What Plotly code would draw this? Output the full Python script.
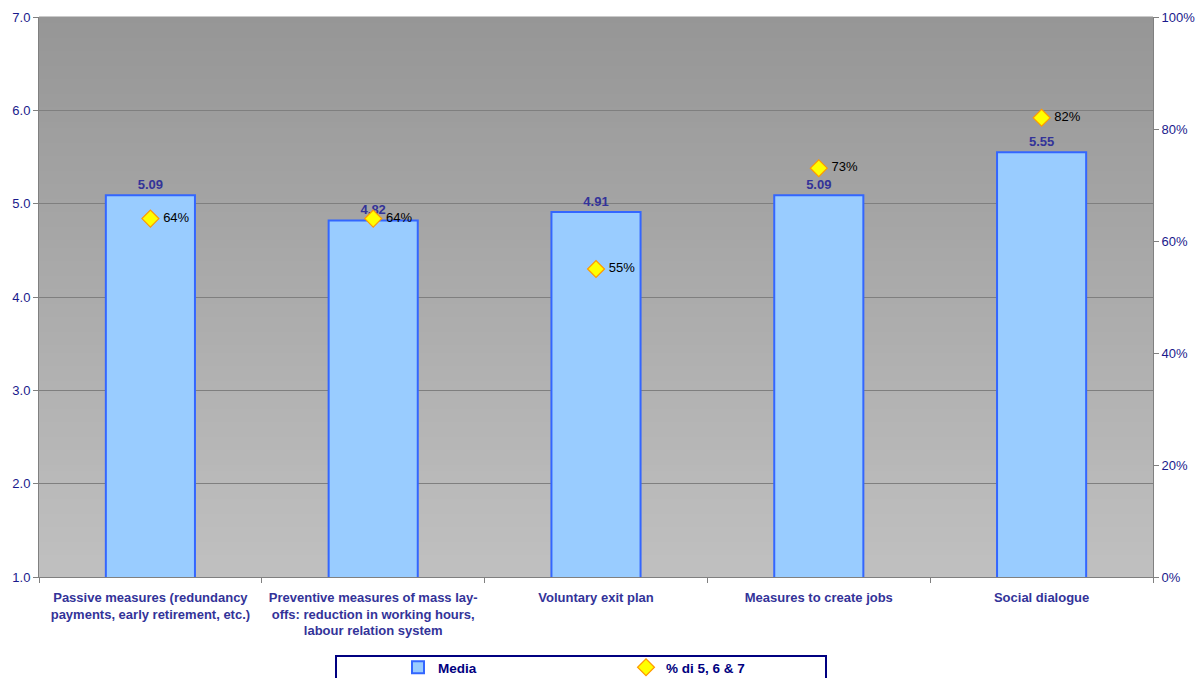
import plotly.graph_objects as go

categories = [
    "Passive measures (redundancy<br>payments, early retirement, etc.)",
    "Preventive measures of mass lay-<br>offs: reduction in working hours,<br>labour relation system",
    "Voluntary exit plan",
    "Measures to create jobs",
    "Social dialogue",
]
media = [5.09, 4.82, 4.91, 5.09, 5.55]
pct_567 = [0.64, 0.64, 0.55, 0.73, 0.82]

NAVY = "#1a1a8c"
LABEL = "#333399"
FONT = "Liberation Sans, Arial, sans-serif"

fig = go.Figure()

fig.add_trace(go.Bar(
    x=categories, y=media, name="Media",
    marker=dict(color="#99ccff", line=dict(color="#3366ff", width=2)),
    width=0.4,
    text=[f"{v:.2f}" for v in media], textposition="outside",
    textfont=dict(color=LABEL, size=13, family=FONT, weight="bold"),
    cliponaxis=False,
))

fig.add_trace(go.Scatter(
    x=categories, y=pct_567, name="% di 5, 6 & 7", yaxis="y2",
    mode="markers+text",
    marker=dict(symbol="diamond", size=13, color="#ffff00",
                line=dict(color="#ff9900", width=1.2)),
    text=[f" {round(v*100)}%" for v in pct_567], textposition="middle right",
    textfont=dict(color="#000000", size=13, family=FONT),
    cliponaxis=False,
))

# vertical gradient behind the plot area (dark grey at top, light grey at bottom)
shapes = []
n = 80
top = (150, 150, 150)
bot = (192, 192, 192)
for i in range(n):
    t = i / (n - 1)
    c = tuple(round(top[k] + (bot[k] - top[k]) * t) for k in range(3))
    shapes.append(dict(
        type="rect", xref="paper", yref="paper",
        x0=0, x1=1, y0=1 - (i + 1) / n, y1=1 - i / n + 0.001,
        fillcolor=f"rgb{c}", line=dict(width=0), layer="below",
    ))

# legend frame
shapes.append(dict(
    type="rect", xref="paper", yref="paper",
    x0=(336 - 39) / 1114, x1=(826 - 39) / 1114,
    y0=-0.25, y1=(577 - 656) / 560,
    line=dict(color="#000080", width=2), fillcolor="rgba(0,0,0,0)",
))

fig.update_layout(
    width=1202, height=678,
    margin=dict(l=39, r=49, t=17, b=101, autoexpand=False),
    paper_bgcolor="white",
    plot_bgcolor="#c0c0c0",
    font=dict(family=FONT, size=13, color=NAVY),
    shapes=shapes,
    showlegend=True,
    legend=dict(
        orientation="h", x=(398 - 39) / 1114, xanchor="left",
        y=(577 - 652) / 560, yanchor="top",
        entrywidth=183, bgcolor="rgba(0,0,0,0)", borderwidth=0,
        font=dict(family=FONT, size=13.5, color="#000080", weight="bold"),
        itemclick=False,
    ),
    xaxis=dict(
        showgrid=False, showline=True, linecolor="#808080", linewidth=1,
        ticks="outside", tickson="boundaries", ticklen=5, tickcolor="#808080",
        tickfont=dict(family=FONT, size=13, color=LABEL, weight="bold"),
        ticklabelstandoff=8, automargin=False,
    ),
    yaxis=dict(
        range=[1, 7], dtick=1, tickformat=".1f",
        showgrid=True, gridcolor="#7f7f7f", gridwidth=1,
        showline=True, linecolor="#808080", linewidth=1,
        ticks="outside", ticklen=5, tickcolor="#808080",
        tickfont=dict(family=FONT, size=13, color=NAVY),
        zeroline=False, automargin=False,
    ),
    yaxis2=dict(
        overlaying="y", side="right", range=[0, 1], dtick=0.2,
        tickformat=".0%", showgrid=False,
        showline=True, linecolor="#808080", linewidth=1,
        ticks="outside", ticklen=5, tickcolor="#808080",
        tickfont=dict(family=FONT, size=13, color=NAVY),
        zeroline=False, automargin=False,
    ),
)

fig.write_html("out.html")
